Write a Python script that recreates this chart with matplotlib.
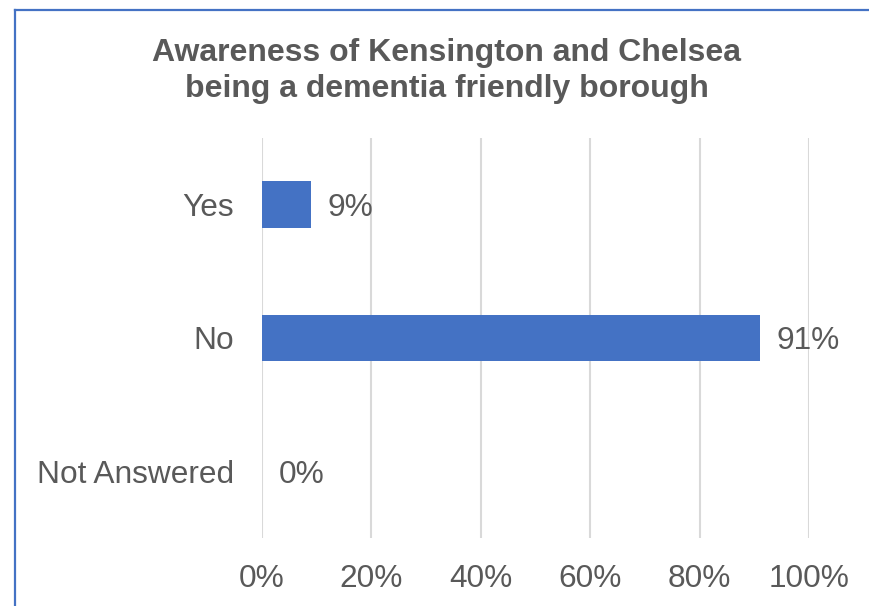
import matplotlib
matplotlib.use('agg')
import matplotlib.pyplot as plt
from matplotlib.lines import Line2D

# survey answers and their shares (%)
answers = ['Yes', 'No', 'Not Answered']
shares = [9, 91, 0]
x_ticks = [0, 20, 40, 60, 80, 100]

grey_text = '#595959'
bar_blue = '#4472C4'

plt.rcParams['font.family'] = ['Liberation Sans', 'DejaVu Sans']

fig = plt.figure(figsize=(8.69, 6.06), dpi=100)
ax = fig.add_axes([0.3015, 0.1122, 0.6295, 0.6605])

pos = list(range(len(answers)))
ax.barh(pos, shares, height=0.35, color=bar_blue, zorder=3)

for p, v in zip(pos, shares):
    ax.annotate(f'{v}%', xy=(v, p), xytext=(12, 0), textcoords='offset points',
                va='center_baseline', ha='left', fontsize=22.8, color=grey_text)

ax.set_xlim(0, 100)
ax.set_ylim(len(answers) - 0.5, -0.5)
ax.set_yticks(pos)
ax.set_yticklabels(answers)
ax.set_xticks(x_ticks)
ax.set_xticklabels([f'{t}%' for t in x_ticks])
ax.tick_params(axis='both', length=0, labelsize=22.8, labelcolor=grey_text)
ax.tick_params(axis='y', pad=20)
ax.tick_params(axis='x', pad=19)
for lbl in ax.get_yticklabels():
    lbl.set_verticalalignment('center_baseline')

ax.grid(axis='x', color='#D9D9D9', linewidth=1.5, zorder=0)
for s in ax.spines.values():
    s.set_visible(False)

fig.text(0.514, 0.883, 'Awareness of Kensington and Chelsea\nbeing a dementia friendly borough',
         ha='center', va='center', fontsize=23, fontweight='bold', color=grey_text,
         linespacing=1.28)

# chart frame: top and left edges
fig.add_artist(Line2D([15 / 869, 1.0], [1 - 10 / 606, 1 - 10 / 606],
                      transform=fig.transFigure, color=bar_blue, linewidth=1.6))
fig.add_artist(Line2D([15 / 869, 15 / 869], [0.0, 1 - 10 / 606],
                      transform=fig.transFigure, color=bar_blue, linewidth=1.6))

fig.savefig('out.png', dpi=100)
